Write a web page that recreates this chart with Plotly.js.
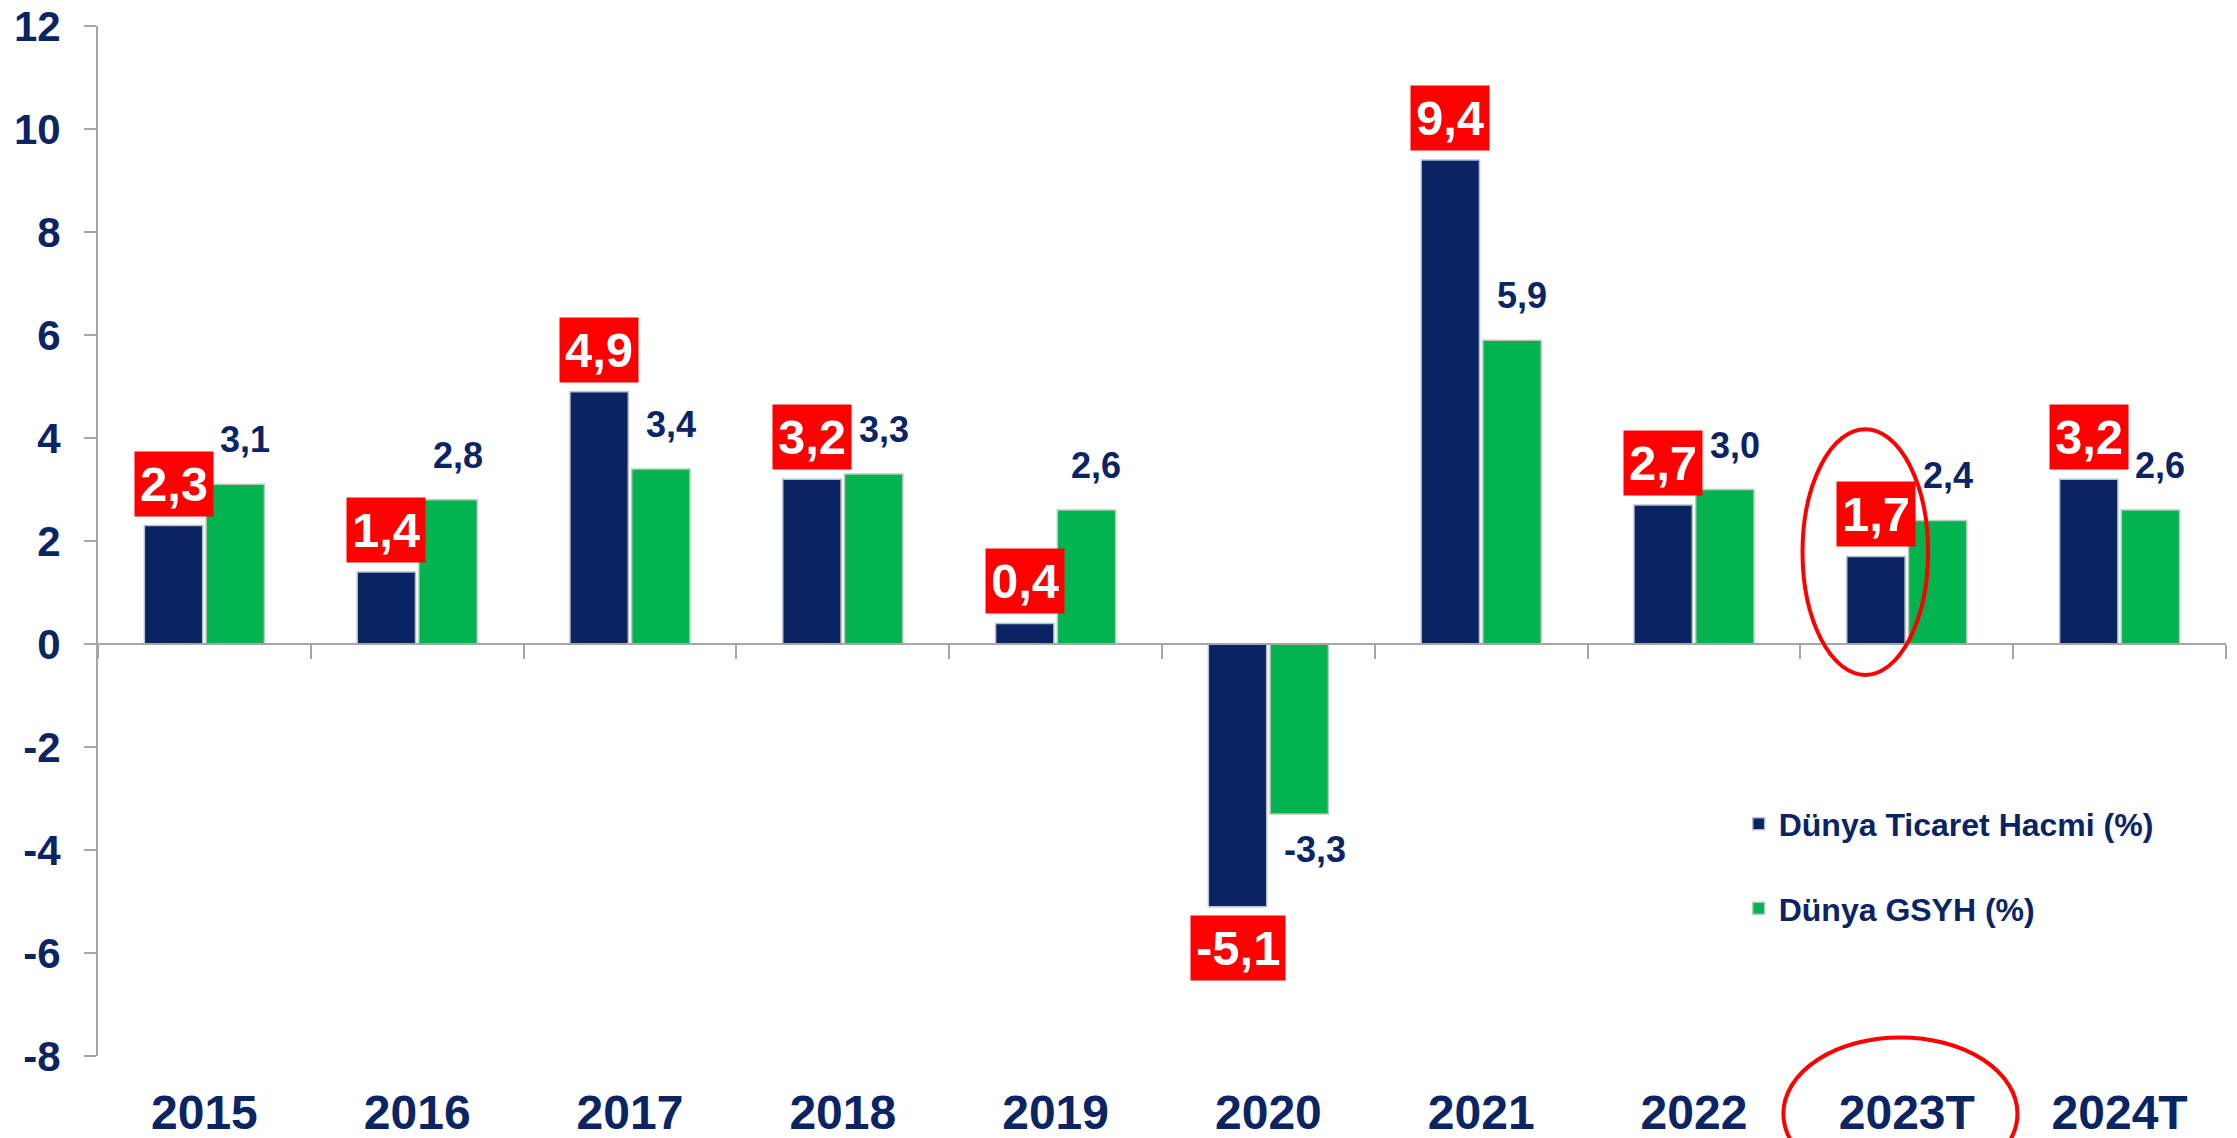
<!DOCTYPE html>
<html><head><meta charset="utf-8">
<script src="https://cdn.plot.ly/plotly-3.0.1.min.js"></script>
<style>html,body{margin:0;padding:0;background:#fff;} #chart{width:2237px;height:1138px;}</style>
</head><body><div id="chart"></div>
<script>
const years = ['2015','2016','2017','2018','2019','2020','2021','2022','2023T','2024T'];
const tradeVolume = [2.3, 1.4, 4.9, 3.2, 0.4, -5.1, 9.4, 2.7, 1.7, 3.2];
const worldGdp = [3.1, 2.8, 3.4, 3.3, 2.6, -3.3, 5.9, 3.0, 2.4, 2.6];
const yTickVals = [-8, -6, -4, -2, 0, 2, 4, 6, 8, 10, 12];
const yTickText = ['-8', '-6', '-4', '-2', '0', '2', '4', '6', '8', '10', '12'];
const seriesNames = ['Dünya Ticaret Hacmi (%)', 'Dünya GSYH (%)'];

const FONT = 'Liberation Sans, Arial, Helvetica, sans-serif';
const NAVY_TXT = '#0B2463';
const NAVY = '#0A2463';
const GREEN = '#03B350';
const GRAY = '#A6A6A6';
const fmt = v => v.toFixed(1).replace('.', ',');
const HALF = 30.85;

const traces = [
  {type: 'bar', name: seriesNames[0], x: years, y: tradeVolume, legendgroup: 'a',
   marker: {color: NAVY, line: {color: '#B8BFCC', width: 1.5}}, hoverinfo: 'skip'},
  {type: 'bar', name: seriesNames[1], x: years, y: worldGdp, legendgroup: 'b',
   marker: {color: GREEN, line: {color: '#B8CCBE', width: 1.5}}, hoverinfo: 'skip'},
  {type: 'scatter', mode: 'none', x: years, y: years.map(() => 0), xaxis: 'x2', yaxis: 'y',
   showlegend: false, hoverinfo: 'skip'}
];

const annotations = [];
tradeVolume.forEach((v, i) => {
  annotations.push({
    x: i, y: v, xref: 'x', yref: 'y', text: fmt(v), showarrow: false,
    font: {family: FONT, size: 49, color: '#FFFFFF', weight: 700},
    bgcolor: '#FF0000', borderpad: 5,
    xanchor: 'center', yanchor: v >= 0 ? 'bottom' : 'top',
    xshift: -HALF, yshift: v >= 0 ? 9 : -8
  });
});
worldGdp.forEach((v, i) => {
  annotations.push({
    x: i, y: v, xref: 'x', yref: 'y', text: fmt(v), showarrow: false,
    font: {family: FONT, size: 36, color: NAVY_TXT, weight: 700},
    xanchor: 'center', yanchor: v >= 0 ? 'bottom' : 'top',
    xshift: HALF + (v >= 0 ? 10 : 16), yshift: v >= 0 ? 22 : -13
  });
});

const layout = {
  width: 2237, height: 1138,
  margin: {l: 98, r: 11, t: 26, b: 82},
  paper_bgcolor: '#FFFFFF', plot_bgcolor: '#FFFFFF',
  barmode: 'group', bargap: 0.42, bargroupgap: 0.055,
  font: {family: FONT, color: NAVY_TXT, weight: 700},
  showlegend: true,
  legend: {x: 0.771, y: 0.252, xanchor: 'left', yanchor: 'top',
           font: {family: FONT, size: 32, color: NAVY_TXT, weight: 700},
           bgcolor: 'rgba(0,0,0,0)', traceorder: 'grouped', tracegroupgap: 40},
  xaxis: {type: 'category', categoryarray: years, range: [-0.5, 9.5],
          showline: false, ticks: '', showgrid: false, zeroline: false,
          tickfont: {family: FONT, size: 48, color: NAVY_TXT, weight: 700},
          ticklabelstandoff: 24, fixedrange: true},
  xaxis2: {type: 'category', categoryarray: years, range: [-0.5, 9.5], overlaying: 'x',
           anchor: 'free', position: 0.4, side: 'bottom',
           showline: true, linecolor: GRAY, linewidth: 2,
           ticks: 'outside', tickson: 'boundaries', ticklen: 14, tickwidth: 2, tickcolor: GRAY,
           showticklabels: false, showgrid: false, zeroline: false, fixedrange: true},
  yaxis: {range: [-8, 12], tickvals: yTickVals, ticktext: yTickText,
          showline: true, linecolor: GRAY, linewidth: 2,
          ticks: 'outside', ticklen: 12, tickwidth: 2, tickcolor: GRAY,
          showgrid: false, zeroline: false, ticklabelstandoff: 15,
          tickfont: {family: FONT, size: 42, color: NAVY_TXT, weight: 700}, fixedrange: true},
  annotations: annotations,
  shapes: [
    {type: 'circle', xref: 'x', yref: 'y', x0: 7.51, x1: 8.10, y0: -0.6, y1: 4.17,
     line: {color: '#FF0000', width: 4}, fillcolor: 'rgba(0,0,0,0)'},
    {type: 'circle', xref: 'x', yref: 'paper', x0: 7.42, x1: 8.52, y0: -0.13, y1: 0.018,
     line: {color: '#FF0000', width: 4}, fillcolor: 'rgba(0,0,0,0)'}
  ]
};

Plotly.newPlot('chart', traces, layout, {displayModeBar: false, staticPlot: true});
</script>
</body></html>
